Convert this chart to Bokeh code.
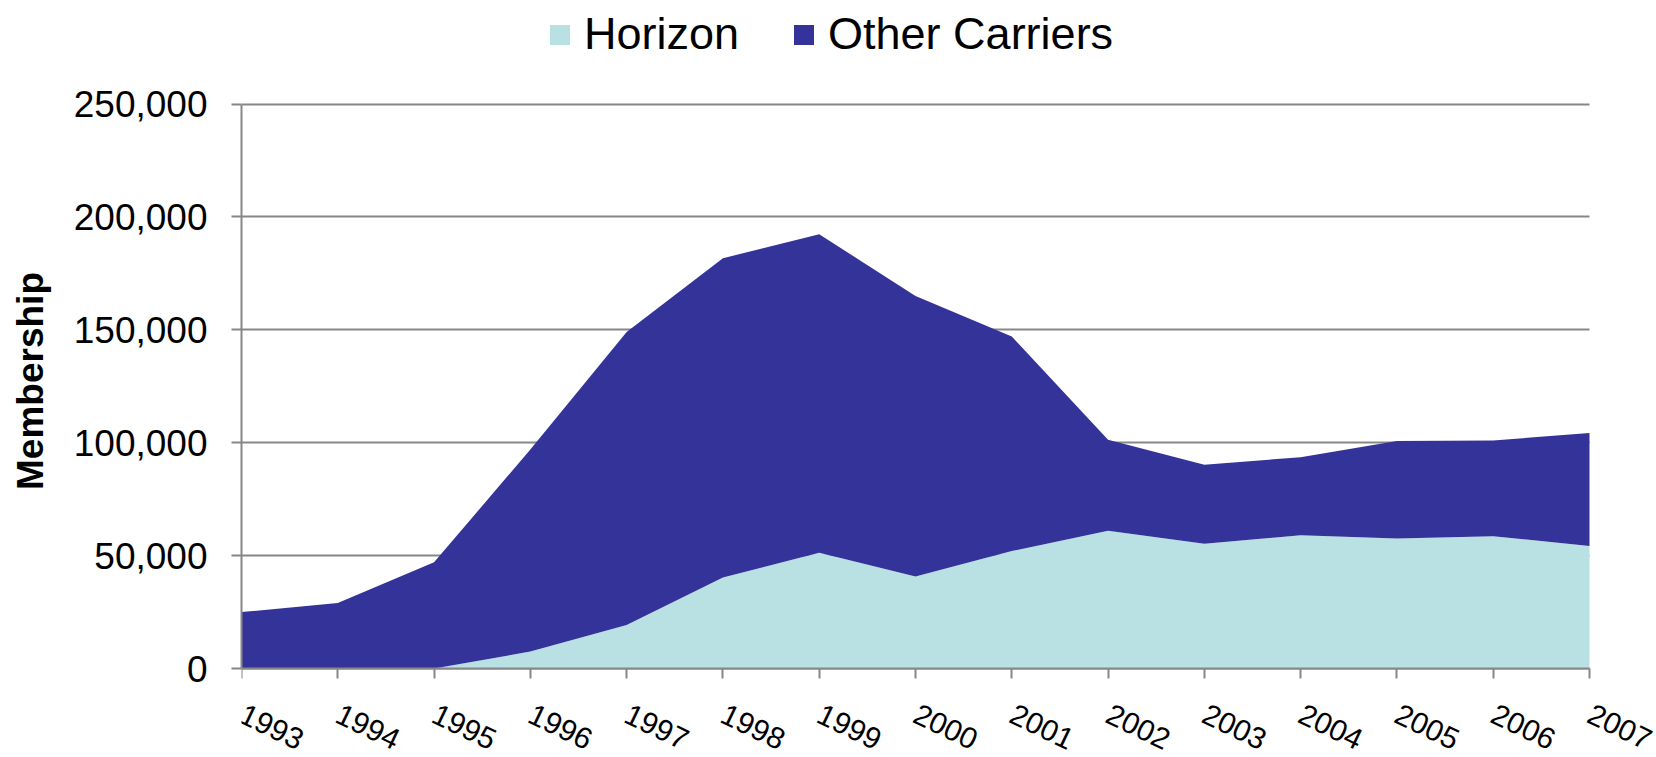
from bokeh.plotting import figure
from bokeh.models import (Range1d, FixedTicker, NumeralTickFormatter, Legend,
                          LegendItem, ColumnDataSource)
from bokeh.embed import file_html
from bokeh.resources import INLINE

years = [1993, 1994, 1995, 1996, 1997, 1998, 1999, 2000, 2001, 2002, 2003, 2004, 2005, 2006, 2007]
horizon = [0, 0, 0, 7500, 19300, 40300, 51300, 40700, 52000, 61000, 55300, 59000, 57600, 58600, 54300]
other_carriers = [25000, 29000, 47000, 89500, 129700, 141400, 141000, 124300, 95000, 40300, 34900, 34600, 43200, 42400, 50000]
series_names = ["Horizon", "Other Carriers"]
colors = ["#B9E0E3", "#333399"]
y_ticks = [0, 50000, 100000, 150000, 200000, 250000]

src = ColumnDataSource(dict(year=years, horizon=horizon, other=other_carriers))

FONT = "Liberation Sans"
GRAY = "#878787"

# The plot frame covers the whole height and reaches the right edge; the
# axes are bounded to 1993..2007 and 0..250,000, the extra room holds the
# legend and the slanted year labels.
Y_MIN, Y_MAX = -39415, 294066
X_MIN, X_MAX = 1993, 2007.696

p = figure(width=1656, height=757, output_backend="svg", toolbar_location=None,
           x_range=Range1d(X_MIN, X_MAX), y_range=Range1d(Y_MIN, Y_MAX),
           min_border_left=241, min_border_right=0, min_border_top=4,
           min_border_bottom=0)
p.outline_line_color = None
p.background_fill_color = "white"

rs = p.varea_stack(["horizon", "other"], x="year", source=src, color=colors)

p.xgrid.visible = False
p.ygrid.grid_line_color = GRAY
p.ygrid.grid_line_width = 2
p.ygrid.level = "underlay"
p.ygrid.cross_bounds = (years[0], years[-1])

p.yaxis.ticker = FixedTicker(ticks=y_ticks)
p.yaxis.bounds = (0, 250000)
p.yaxis.formatter = NumeralTickFormatter(format="0,0")
p.yaxis.axis_label = "Membership"
p.yaxis.axis_label_text_font = FONT
p.yaxis.axis_label_text_font_style = "bold"
p.yaxis.axis_label_text_font_size = "37px"
p.yaxis.axis_label_text_color = "black"
p.yaxis.axis_label_standoff = 20
p.yaxis.major_label_text_font = FONT
p.yaxis.major_label_text_font_size = "37px"
p.yaxis.major_label_text_color = "black"
p.yaxis.major_label_standoff = 24
p.yaxis.axis_line_color = GRAY
p.yaxis.axis_line_width = 2
p.yaxis.major_tick_line_color = GRAY
p.yaxis.major_tick_line_width = 2
p.yaxis.major_tick_out = 10
p.yaxis.major_tick_in = 0
p.yaxis.minor_tick_line_color = None

p.xaxis.fixed_location = 0
p.xaxis.bounds = (years[0], years[-1])
p.xaxis.ticker = FixedTicker(ticks=years)
p.xaxis.major_label_orientation = -0.45
p.xaxis.major_label_text_font = FONT
p.xaxis.major_label_text_font_size = "30px"
p.xaxis.major_label_text_color = "black"
p.xaxis.major_label_standoff = 34
p.xaxis.axis_line_color = GRAY
p.xaxis.axis_line_width = 2
p.xaxis.major_tick_line_color = GRAY
p.xaxis.major_tick_line_width = 2
p.xaxis.major_tick_out = 10
p.xaxis.major_tick_in = 0
p.xaxis.minor_tick_line_color = None

legend = Legend(items=[LegendItem(label=series_names[0], renderers=[rs[0]]),
                       LegendItem(label=series_names[1], renderers=[rs[1]])],
                orientation="horizontal", location=(306, 697),
                label_text_font=FONT, label_text_font_size="45px",
                label_text_color="black",
                label_standoff=12, spacing=52, glyph_width=25, glyph_height=25,
                padding=0, margin=0, border_line_color=None,
                background_fill_alpha=0, label_text_baseline="middle")
p.add_layout(legend, "center")

open("out.html", "w").write(file_html(p, INLINE))
